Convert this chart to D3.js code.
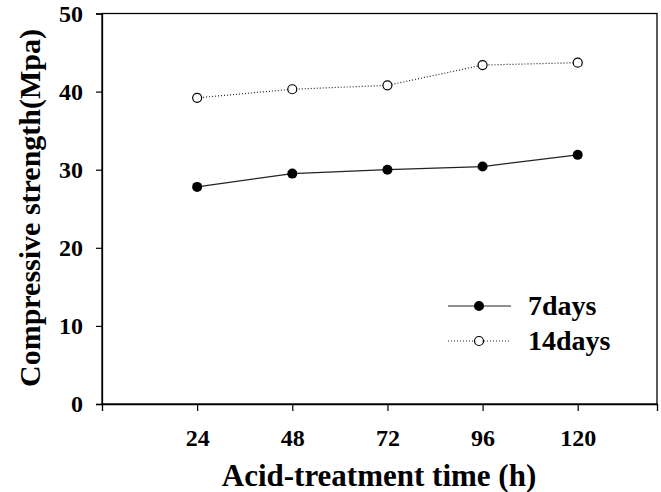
<!DOCTYPE html>
<html>
<head>
<meta charset="utf-8">
<script src="https://cdn.jsdelivr.net/npm/d3@7"></script>
<style>
  body { margin: 0; background: #fff; }
  text { font-family: "Liberation Serif", "Times New Roman", serif; font-weight: bold; }
</style>
</head>
<body>
<div id="chart"></div>
<script>
var hours = [24, 48, 72, 96, 120];
var days7 = [27.8, 29.5, 30.0, 30.4, 31.9];
var days14 = [39.2, 40.3, 40.8, 43.4, 43.7];
var yTicks = [0, 10, 20, 30, 40, 50];

function chart() {
    var w = 661;
    var h = 492;
    var left = 102, right = 657, top = 13.5, bottom = 404;

    var svg = d3.select("#chart")
            .append("svg")
            .attr("width", w)
            .attr("height", h);

    var x = d3.scaleLinear().domain([0, 140]).range([left, right]);
    var y = d3.scaleLinear().domain([0, 50]).range([bottom, top]);

    // frame
    svg.append("rect")
        .attr("x", left)
        .attr("y", top)
        .attr("width", right - left)
        .attr("height", bottom - top)
        .attr("fill", "none")
        .attr("stroke", "#000")
        .attr("stroke-width", 1.3);

    var xAxis = svg.append("g")
        .attr("transform", "translate(0," + bottom + ")")
        .call(d3.axisBottom(x).tickValues(hours).tickSize(7).tickPadding(18));
    var yAxis = svg.append("g")
        .attr("transform", "translate(" + left + ",0)")
        .call(d3.axisLeft(y).tickValues(yTicks).tickSize(6).tickPadding(13));

    [xAxis, yAxis].forEach(function (g) {
        g.select(".domain").attr("stroke-width", 1.3);
        g.selectAll(".tick line").attr("stroke-width", 1.2);
        g.selectAll(".tick text")
            .attr("fill", "#000")
            .style("font-size", "24px")
            .style("font-family", "'Liberation Serif', serif")
            .style("font-weight", "bold");
    });

    var line = d3.line()
        .x(function (d, i) { return x(hours[i]); })
        .y(function (d) { return y(d); });

    svg.append("path")
        .datum(days7)
        .attr("d", line)
        .attr("fill", "none")
        .attr("stroke", "#222")
        .attr("stroke-width", 1.2);

    svg.append("path")
        .datum(days14)
        .attr("d", line)
        .attr("fill", "none")
        .attr("stroke", "#222")
        .attr("stroke-width", 1.2)
        .attr("stroke-dasharray", "1,2");

    svg.selectAll("circle.d7")
        .data(days7)
        .enter()
        .append("circle")
        .attr("class", "d7")
        .attr("cx", function (d, i) { return x(hours[i]); })
        .attr("cy", function (d) { return y(d); })
        .attr("r", 5)
        .attr("fill", "#000");

    svg.selectAll("circle.d14")
        .data(days14)
        .enter()
        .append("circle")
        .attr("class", "d14")
        .attr("cx", function (d, i) { return x(hours[i]); })
        .attr("cy", function (d) { return y(d); })
        .attr("r", 4.5)
        .attr("fill", "#fff")
        .attr("stroke", "#000")
        .attr("stroke-width", 1.2);

    // legend
    var legend = [
        {label: "7days", dash: null, fill: "#000", r: 5, y: 306},
        {label: "14days", dash: "1,2", fill: "#fff", r: 4.5, y: 341}
    ];
    legend.forEach(function (d) {
        svg.append("line")
            .attr("x1", 448).attr("x2", 511)
            .attr("y1", d.y).attr("y2", d.y)
            .attr("stroke", "#222")
            .attr("stroke-width", 1.2)
            .attr("stroke-dasharray", d.dash);
        svg.append("circle")
            .attr("cx", 479).attr("cy", d.y)
            .attr("r", d.r)
            .attr("fill", d.fill)
            .attr("stroke", "#000")
            .attr("stroke-width", d.fill === "#000" ? 0 : 1.2);
        svg.append("text")
            .attr("x", 528).attr("y", d.y + 9)
            .style("font-size", "28px")
            .text(d.label);
    });

    svg.append("text")
        .attr("x", 379).attr("y", 486)
        .attr("text-anchor", "middle")
        .style("font-size", "31px")
        .text("Acid-treatment time (h)");

    svg.append("text")
        .attr("transform", "translate(40," + 208 + ") rotate(-90)")
        .attr("text-anchor", "middle")
        .style("font-size", "30px")
        .text("Compressive strength(Mpa)");
}
window.onload = chart;
</script>
</body>
</html>
